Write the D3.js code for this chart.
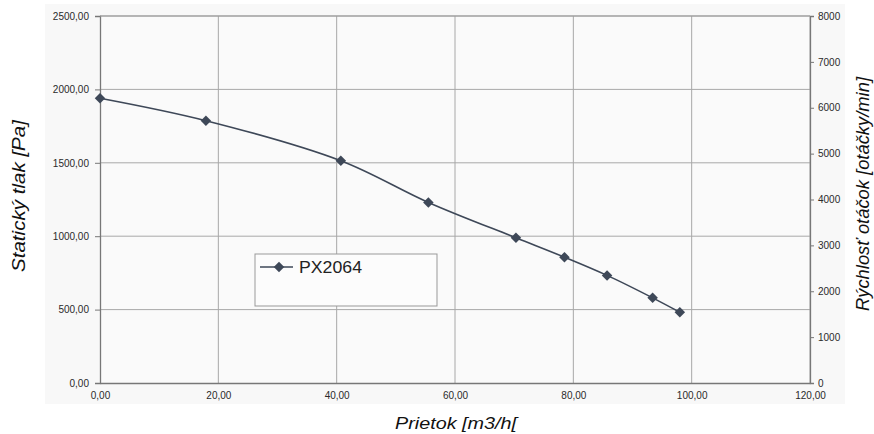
<!DOCTYPE html>
<html>
<head>
<meta charset="utf-8">
<script src="https://cdn.jsdelivr.net/npm/d3@7"></script>
<style>
  body { margin: 0; background: #fff; }
  svg { display: block; font-family: Arial, "Liberation Sans", sans-serif; }
</style>
</head>
<body>
<div id="chart-area"></div>
<script>
// data
var flow = [0, 17.9, 40.7, 55.5, 70.3, 78.5, 85.7, 93.4, 98.0];
var pressure = [1940, 1787, 1514, 1230, 989, 857, 733, 580, 482];
var seriesName = "PX2064";

// tick values
var xTicks = [0, 20, 40, 60, 80, 100, 120];
var yTicks = [0, 500, 1000, 1500, 2000, 2500];
var y2Ticks = [0, 1000, 2000, 3000, 4000, 5000, 6000, 7000, 8000];

var data = flow.map((f, i) => ({ flow: f, pressure: pressure[i] }));

var W = 874, H = 434;
var margin = { top: 16, right: 64, bottom: 51, left: 100 };
var width = W - margin.left - margin.right;   // 710
var height = H - margin.top - margin.bottom;  // 367

var svg = d3.select("#chart-area")
    .append("svg")
    .attr("width", W)
    .attr("height", H);

// chart area background
svg.append("rect")
    .attr("x", 45).attr("y", 4)
    .attr("width", 800).attr("height", 400)
    .attr("fill", "#f8f8f8");

var g = svg.append("g")
    .attr("transform", "translate(" + margin.left + ", " + margin.top + ")");

var sk = d3.formatLocale({ decimal: ",", thousands: "", grouping: [3], currency: ["", ""] });
var fmt2 = sk.format(".2f");

// SCALES
var x = d3.scaleLinear().domain([0, 120]).range([0, width]);
var y = d3.scaleLinear().domain([0, 2500]).range([height, 0]);
var y2 = d3.scaleLinear().domain([0, 8000]).range([height, 0]);

// plot background
g.append("rect")
    .attr("width", width).attr("height", height)
    .attr("fill", "#fafafa");

// grid
g.append("g").selectAll("line").data(xTicks.slice(1)).enter().append("line")
    .attr("x1", (d) => x(d)).attr("x2", (d) => x(d))
    .attr("y1", 0).attr("y2", height)
    .attr("stroke", "#a8a8a8").attr("stroke-width", 1);

g.append("g").selectAll("line").data(yTicks.slice(1)).enter().append("line")
    .attr("x1", 0).attr("x2", width)
    .attr("y1", (d) => y(d)).attr("y2", (d) => y(d))
    .attr("stroke", "#a8a8a8").attr("stroke-width", 1);

// AXES
var leftAxis = d3.axisLeft(y).tickValues(yTicks).tickFormat(fmt2).tickSize(5).tickPadding(6);
var bottomAxis = d3.axisBottom(x).tickValues(xTicks).tickFormat(fmt2).tickSize(0).tickPadding(9);
var rightAxis = d3.axisRight(y2).tickValues(y2Ticks).tickFormat(d3.format("d")).tickSize(4).tickPadding(4);

function styleAxis(sel) {
    sel.select(".domain").attr("stroke", "#777").attr("stroke-width", 1.3);
    sel.selectAll(".tick line").attr("stroke", "#777");
    sel.selectAll("text").attr("font-size", "10px").attr("fill", "#2a2a2a");
}

g.append("g").attr("class", "left axis").call(leftAxis).call(styleAxis);
g.append("g").attr("class", "bottom axis")
    .attr("transform", "translate(0, " + height + ")")
    .call(bottomAxis).call(styleAxis);
g.append("g").attr("class", "right axis")
    .attr("transform", "translate(" + width + ", 0)")
    .call(rightAxis).call(styleAxis);

// top border
g.append("line").attr("x1", 0).attr("x2", width).attr("y1", 0).attr("y2", 0)
    .attr("stroke", "#999").attr("stroke-width", 1);

// LINE
var lineColor = "#3e4858";
var line = d3.line()
    .x((d) => x(d.flow))
    .y((d) => y(d.pressure))
    .curve(d3.curveCatmullRom.alpha(0.5));

g.append("path")
    .datum(data)
    .attr("d", line)
    .attr("fill", "none")
    .attr("stroke", lineColor)
    .attr("stroke-width", 1.6);

var diamond = d3.symbol().type(d3.symbolDiamond2).size(70);
g.selectAll(".pt").data(data).enter().append("path")
    .attr("class", "pt")
    .attr("d", diamond)
    .attr("transform", (d) => "translate(" + x(d.flow) + "," + y(d.pressure) + ")")
    .attr("fill", lineColor);

// LEGEND
var lg = svg.append("g").attr("transform", "translate(255, 254)");
lg.append("rect")
    .attr("width", 182).attr("height", 52)
    .attr("fill", "#fcfcfc").attr("stroke", "#999").attr("stroke-width", 1);
lg.append("line").attr("x1", 5).attr("x2", 38).attr("y1", 13).attr("y2", 13)
    .attr("stroke", lineColor).attr("stroke-width", 1.6);
lg.append("path").attr("d", diamond).attr("transform", "translate(24,13)").attr("fill", lineColor);
lg.append("text").attr("x", 44).attr("y", 19)
    .attr("font-size", "17px").attr("fill", "#222")
    .attr("textLength", 63).attr("lengthAdjust", "spacingAndGlyphs")
    .text(seriesName);

// TITLE LABELS
svg.append("text")
    .attr("x", -196).attr("y", 25)
    .attr("transform", "rotate(-90)")
    .attr("text-anchor", "middle")
    .attr("font-size", "18px").attr("font-style", "italic").attr("fill", "#111")
    .attr("textLength", 152).attr("lengthAdjust", "spacingAndGlyphs")
    .text("Statický tlak [Pa]");

svg.append("text")
    .attr("x", -194).attr("y", 869)
    .attr("transform", "rotate(-90)")
    .attr("text-anchor", "middle")
    .attr("font-size", "18px").attr("font-style", "italic").attr("fill", "#111")
    .attr("textLength", 234).attr("lengthAdjust", "spacingAndGlyphs")
    .text("Rýchlosť otáčok [otáčky/min]");

svg.append("text")
    .attr("x", 456).attr("y", 429)
    .attr("text-anchor", "middle")
    .attr("font-size", "17px").attr("font-style", "italic").attr("fill", "#111")
    .attr("textLength", 122).attr("lengthAdjust", "spacingAndGlyphs")
    .text("Prietok [m3/h[");
</script>
</body>
</html>
